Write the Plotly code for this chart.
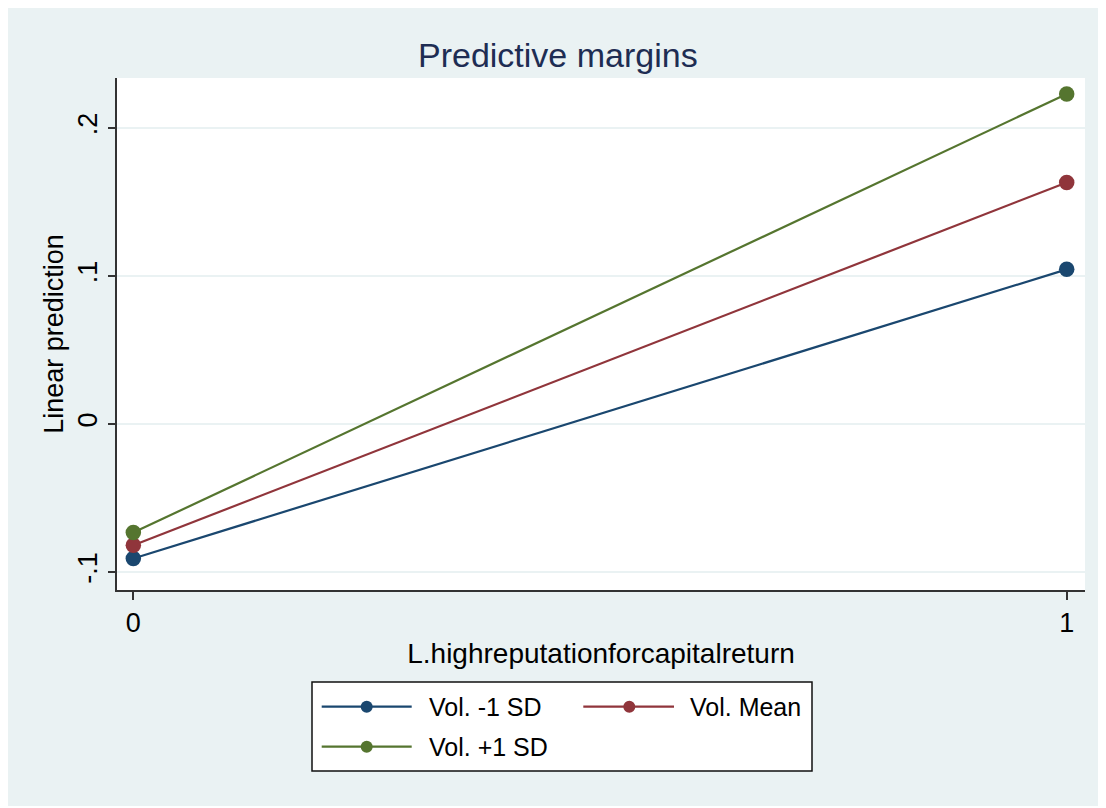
import plotly.graph_objects as go

# Data
x_categories = [0, 1]
series_names = ["Vol. -1 SD", "Vol. Mean", "Vol. +1 SD"]
vol_minus_1sd = [-0.0909, 0.1045]
vol_mean = [-0.0820, 0.1632]
vol_plus_1sd = [-0.0734, 0.2230]
series_values = [vol_minus_1sd, vol_mean, vol_plus_1sd]
colors = ["#1A476F", "#90353B", "#55752F"]
y_tickvals = [-0.1, 0, 0.1, 0.2]
y_ticktext = ["-.1", "0", ".1", ".2"]
x_tickvals = [0, 1]
x_ticktext = ["0", "1"]

# page offset (browser body margin)
OX, OY = 8, 8
W, H = 1098, 798
L, R, T = 117 - OX, 21, 78 - OY
B = (OY + H) - 590
PW, PH = W - L - R, H - T - B

def px(p):
    return (p - OX - L) / PW

def py(q):
    return (H - B - (q - OY)) / PH

FONT = "Liberation Sans, Arial, sans-serif"
BG = "#EAF2F3"

fig = go.Figure()
for name, vals, col in zip(series_names, series_values, colors):
    fig.add_trace(go.Scatter(
        x=x_categories, y=vals, name=name, mode="lines+markers",
        line=dict(color=col, width=2.2),
        marker=dict(color=col, size=15.5),
        showlegend=False,
    ))

shapes = []
annotations = []

# manual legend
shapes.append(dict(type="rect", xref="paper", yref="paper",
                   x0=px(312), x1=px(812), y0=py(771), y1=py(682),
                   fillcolor="white", line=dict(color="#111111", width=1.5)))
legend_pos = [(321.7, 411.7, 366.7, 426.7, 706.7),
              (583.3, 674.0, 629.3, 688.0, 706.7),
              (321.7, 411.7, 366.7, 426.7, 746.7)]
for (lx0, lx1, mx, tx, ly), name, col in zip(legend_pos, series_names, colors):
    shapes.append(dict(type="line", xref="paper", yref="paper",
                       x0=px(lx0), x1=px(lx1), y0=py(ly), y1=py(ly),
                       line=dict(color=col, width=2.2)))
    shapes.append(dict(type="circle", xref="paper", yref="paper",
                       x0=px(mx - 6), x1=px(mx + 6), y0=py(ly + 6), y1=py(ly - 6),
                       fillcolor=col, line=dict(color=col, width=0)))
    annotations.append(dict(xref="paper", yref="paper", x=px(tx), y=py(ly),
                            xanchor="left", yanchor="middle", showarrow=False,
                            text=name, font=dict(family=FONT, size=25, color="black")))

annotations.append(dict(xref="paper", yref="paper", x=px(558), y=py(55),
                        xanchor="center", yanchor="middle", showarrow=False,
                        text="Predictive margins",
                        font=dict(family=FONT, size=34, color="#1E2D53")))

fig.update_layout(
    width=W, height=H,
    margin=dict(l=L, r=R, t=T, b=B),
    paper_bgcolor=BG, plot_bgcolor="white",
    font=dict(family=FONT, size=27, color="black"),
    shapes=shapes, annotations=annotations,
    showlegend=False,
    xaxis=dict(range=[-0.0175, 1.0196], tickvals=x_tickvals, ticktext=x_ticktext,
               showgrid=False, zeroline=False, showline=True, linecolor="#333333", linewidth=2,
               ticks="outside", ticklen=8, tickwidth=2, tickcolor="#333333",
               tickfont=dict(size=27),
               title=dict(text="L.highreputationforcapitalreturn", font=dict(size=28), standoff=6)),
    yaxis=dict(range=[-0.1122, 0.2338], tickvals=y_tickvals, ticktext=y_ticktext,
               showgrid=True, gridcolor="#EAF2F3", gridwidth=1.5, zeroline=False,
               showline=True, linecolor="#333333", linewidth=2,
               ticks="outside", ticklen=7, tickwidth=2, tickcolor="#333333",
               tickangle=-90, tickfont=dict(size=27),
               title=dict(text="Linear prediction", font=dict(size=27), standoff=2)),
)

fig.write_html("out.html")
